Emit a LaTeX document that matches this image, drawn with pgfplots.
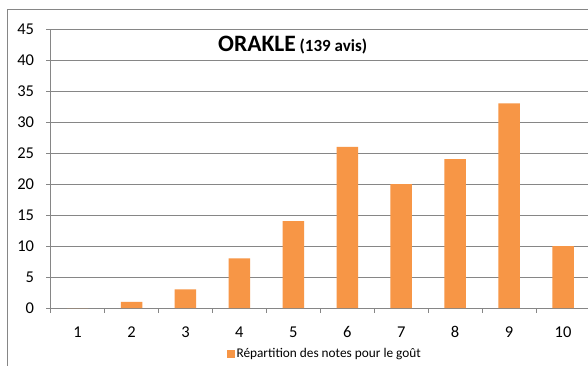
\documentclass[border=0pt]{standalone}
\usepackage{fontspec}
\setmainfont{Carlito}
\usepackage{pgfplots}
\pgfplotsset{compat=1.18}
\definecolor{barorange}{HTML}{F79646}
\definecolor{gridgray}{HTML}{868686}
\begin{document}
\begin{tikzpicture}[x=1pt,y=1pt]
\useasboundingbox (0,0) rectangle (588,365);
\fill[white] (0,0) rectangle (588,365);
\draw[gridgray, line width=0.9pt] (7.3,-5) -- (7.3,356) -- (600,356);
\begin{axis}[
  at={(50.6pt,57pt)}, anchor=south west,
  scale only axis, width=539.4pt, height=279pt,
  xmin=0.5, xmax=10.5, ymin=0, ymax=45,
  axis x line*=bottom, axis y line*=left,
  axis line style={gridgray, line width=0.9pt, -},
  ytick={0,5,...,45},
  xtick={0.5,1.5,...,10.5},
  xticklabels={},
  extra x ticks={1,2,3,4,5,6,7,8,9,10},
  extra x tick labels={1,2,3,4,5,6,7,8,9,10},
  extra x tick style={major tick length=0pt, grid=none},
  tick align=outside,
  major tick length=4.5pt,
  tick style={gridgray, line width=0.9pt},
  ymajorgrids, grid style={gridgray, line width=0.9pt},
  /pgf/number format/assume math mode=true,
  ticklabel style={font=\fontsize{16.5}{18}\selectfont, text=black},
  yticklabel style={anchor=base east, inner sep=0pt, xshift=-11.8pt, yshift=-5.2pt},
  xticklabel style={anchor=base, inner sep=0pt, yshift=-29.6pt},
  legend style={at={(axis description cs:0.3265,-0.165)}, anchor=west, draw=none, fill=none,
    inner sep=0pt, font=\fontsize{13.3}{15}\selectfont},
  clip=false,
]
\addplot[ybar, bar width=21.5pt, fill=barorange, draw=none,
  legend image code/.code={\fill[barorange] (0pt,-3.8pt) rectangle (7.6pt,3.8pt);}]
  coordinates {(1,0) (2,1) (3,3) (4,8) (5,14) (6,26) (7,20) (8,24) (9,33) (10,10)};
\addlegendentry{Répartition des notes pour le goût}
\node[anchor=base west, inner sep=0pt] at (rel axis cs:0.3103,0.9176)
  {\fontsize{23.5}{27}\selectfont\bfseries ORAKLE{\fontsize{17}{19}\selectfont\ (139 avis)}};
\end{axis}
\end{tikzpicture}
\end{document}
